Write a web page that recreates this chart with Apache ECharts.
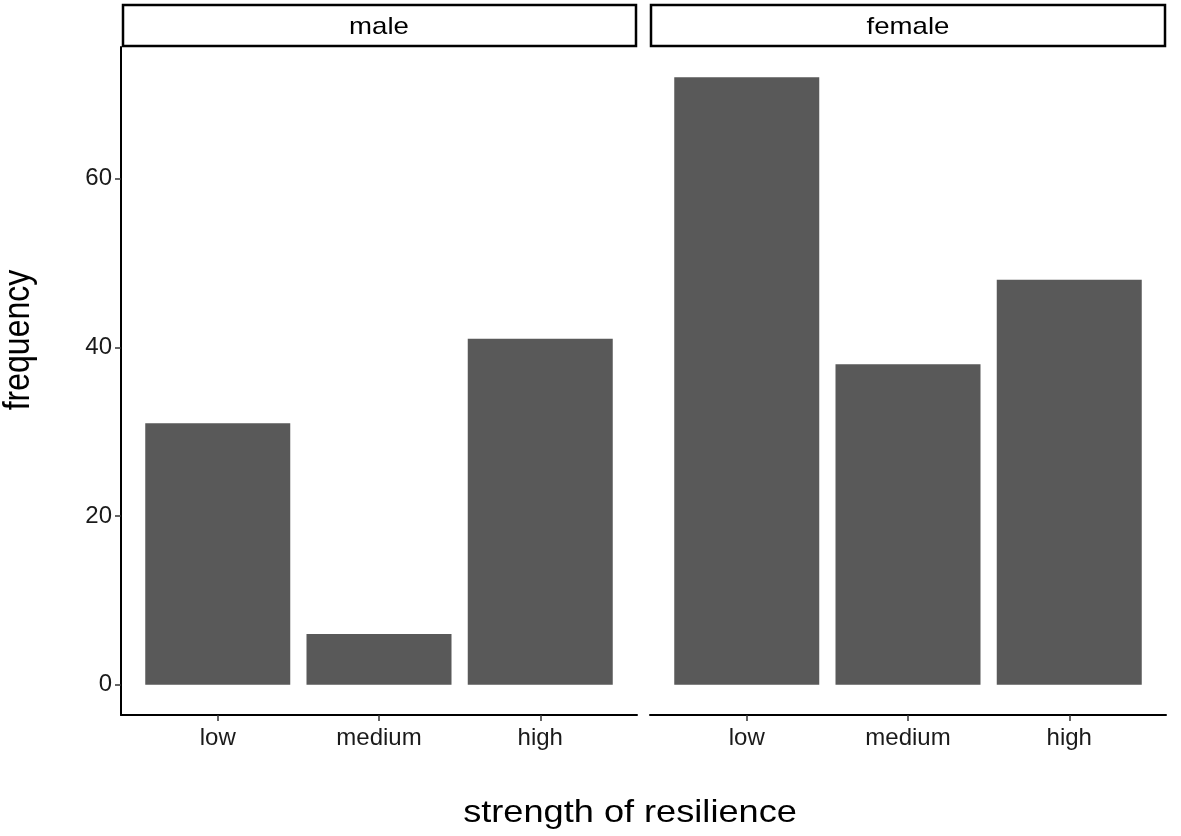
<!DOCTYPE html>
<html>
<head>
<meta charset="utf-8">
<script src="https://cdn.jsdelivr.net/npm/echarts@6/dist/echarts.min.js"></script>
<style>
  html, body { margin: 0; padding: 0; background: #fff; }
  #main { width: 1181px; height: 836px; }
</style>
</head>
<body>
<div id="main"></div>
<script>
// data
const categories = ["low", "medium", "high"];
const panels = ["male", "female"];
const maleCounts = [31, 6, 41];
const femaleCounts = [72, 38, 48];
const yTicks = [0, 20, 40, 60];

const font = "'Liberation Sans', Arial, sans-serif";
const barColor = "#595959";

// ggplot like expansion: 5% on y, 0.6 on discrete x
const yMax = Math.max(...maleCounts, ...femaleCounts);
const yMin = -yMax * 0.05, yTop = yMax * 1.05;

function toPairs(vals) {
  return vals.map((v, i) => [i + 1, v]);
}

const grids = [
  { left: 121, top: 47, width: 516, height: 668 },
  { left: 650, top: 47, width: 516, height: 668 },
];

function xAxisFor(idx) {
  return {
    type: "value",
    gridIndex: idx,
    min: 0.4,
    max: categories.length + 0.6,
    splitLine: { show: false },
    axisLine: { show: true, onZero: false, lineStyle: { color: "#000", width: 2 } },
    axisTick: { show: true, customValues: [1, 2, 3], length: 6, lineStyle: { color: "#333", width: 1.5 } },
    axisLabel: {
      customValues: [1, 2, 3],
      formatter: (v) => categories[Math.round(v) - 1],
      color: "#1a1a1a",
      fontSize: 24,
      fontFamily: font,
      margin: 11,
    },
  };
}

const chart = echarts.init(document.getElementById("main"));
chart.setOption({
  backgroundColor: "#fff",
  animation: false,
  grid: grids,
  xAxis: [xAxisFor(0), xAxisFor(1)],
  yAxis: [
    {
      type: "value",
      gridIndex: 0,
      min: yMin,
      max: yTop,
      splitLine: { show: false },
      axisLine: { show: true, onZero: false, lineStyle: { color: "#000", width: 2 } },
      axisTick: { show: true, customValues: yTicks, length: 6, lineStyle: { color: "#333", width: 1.5 } },
      axisLabel: {
        customValues: yTicks,
        color: "#1a1a1a",
        fontSize: 24,
        fontFamily: font,
        margin: 9,
      },
    },
    {
      type: "value",
      gridIndex: 1,
      min: yMin,
      max: yTop,
      show: false,
      splitLine: { show: false },
    },
  ],
  series: [
    {
      name: panels[0],
      type: "bar",
      xAxisIndex: 0,
      yAxisIndex: 0,
      barWidth: 145,
      itemStyle: { color: barColor },
      data: toPairs(maleCounts),
    },
    {
      name: panels[1],
      type: "bar",
      xAxisIndex: 1,
      yAxisIndex: 1,
      barWidth: 145,
      itemStyle: { color: barColor },
      data: toPairs(femaleCounts),
    },
  ],
  graphic: [
    // facet strips
    {
      type: "rect",
      shape: { x: 123, y: 5, width: 513, height: 41 },
      style: { fill: "#fff", stroke: "#000", lineWidth: 2.5 },
    },
    {
      type: "text",
      x: 379, y: 27, scaleX: 1.15,
      style: { text: panels[0], font: "24px " + font, fill: "#000", textAlign: "center", textVerticalAlign: "middle" },
    },
    {
      type: "rect",
      shape: { x: 651, y: 5, width: 514, height: 41 },
      style: { fill: "#fff", stroke: "#000", lineWidth: 2.5 },
    },
    {
      type: "text",
      x: 908, y: 27, scaleX: 1.15,
      style: { text: panels[1], font: "24px " + font, fill: "#000", textAlign: "center", textVerticalAlign: "middle" },
    },
    // axis titles
    {
      type: "text",
      x: 630, y: 813, scaleX: 1.13,
      style: { text: "strength of resilience", font: "32px " + font, fill: "#000", textAlign: "center", textVerticalAlign: "middle" },
    },
    {
      type: "text",
      x: 19, y: 340,
      rotation: Math.PI / 2, scaleY: 1.13,
      style: { text: "frequency", font: "32px " + font, fill: "#000", textAlign: "center", textVerticalAlign: "middle" },
    },
  ],
});
</script>
</body>
</html>
